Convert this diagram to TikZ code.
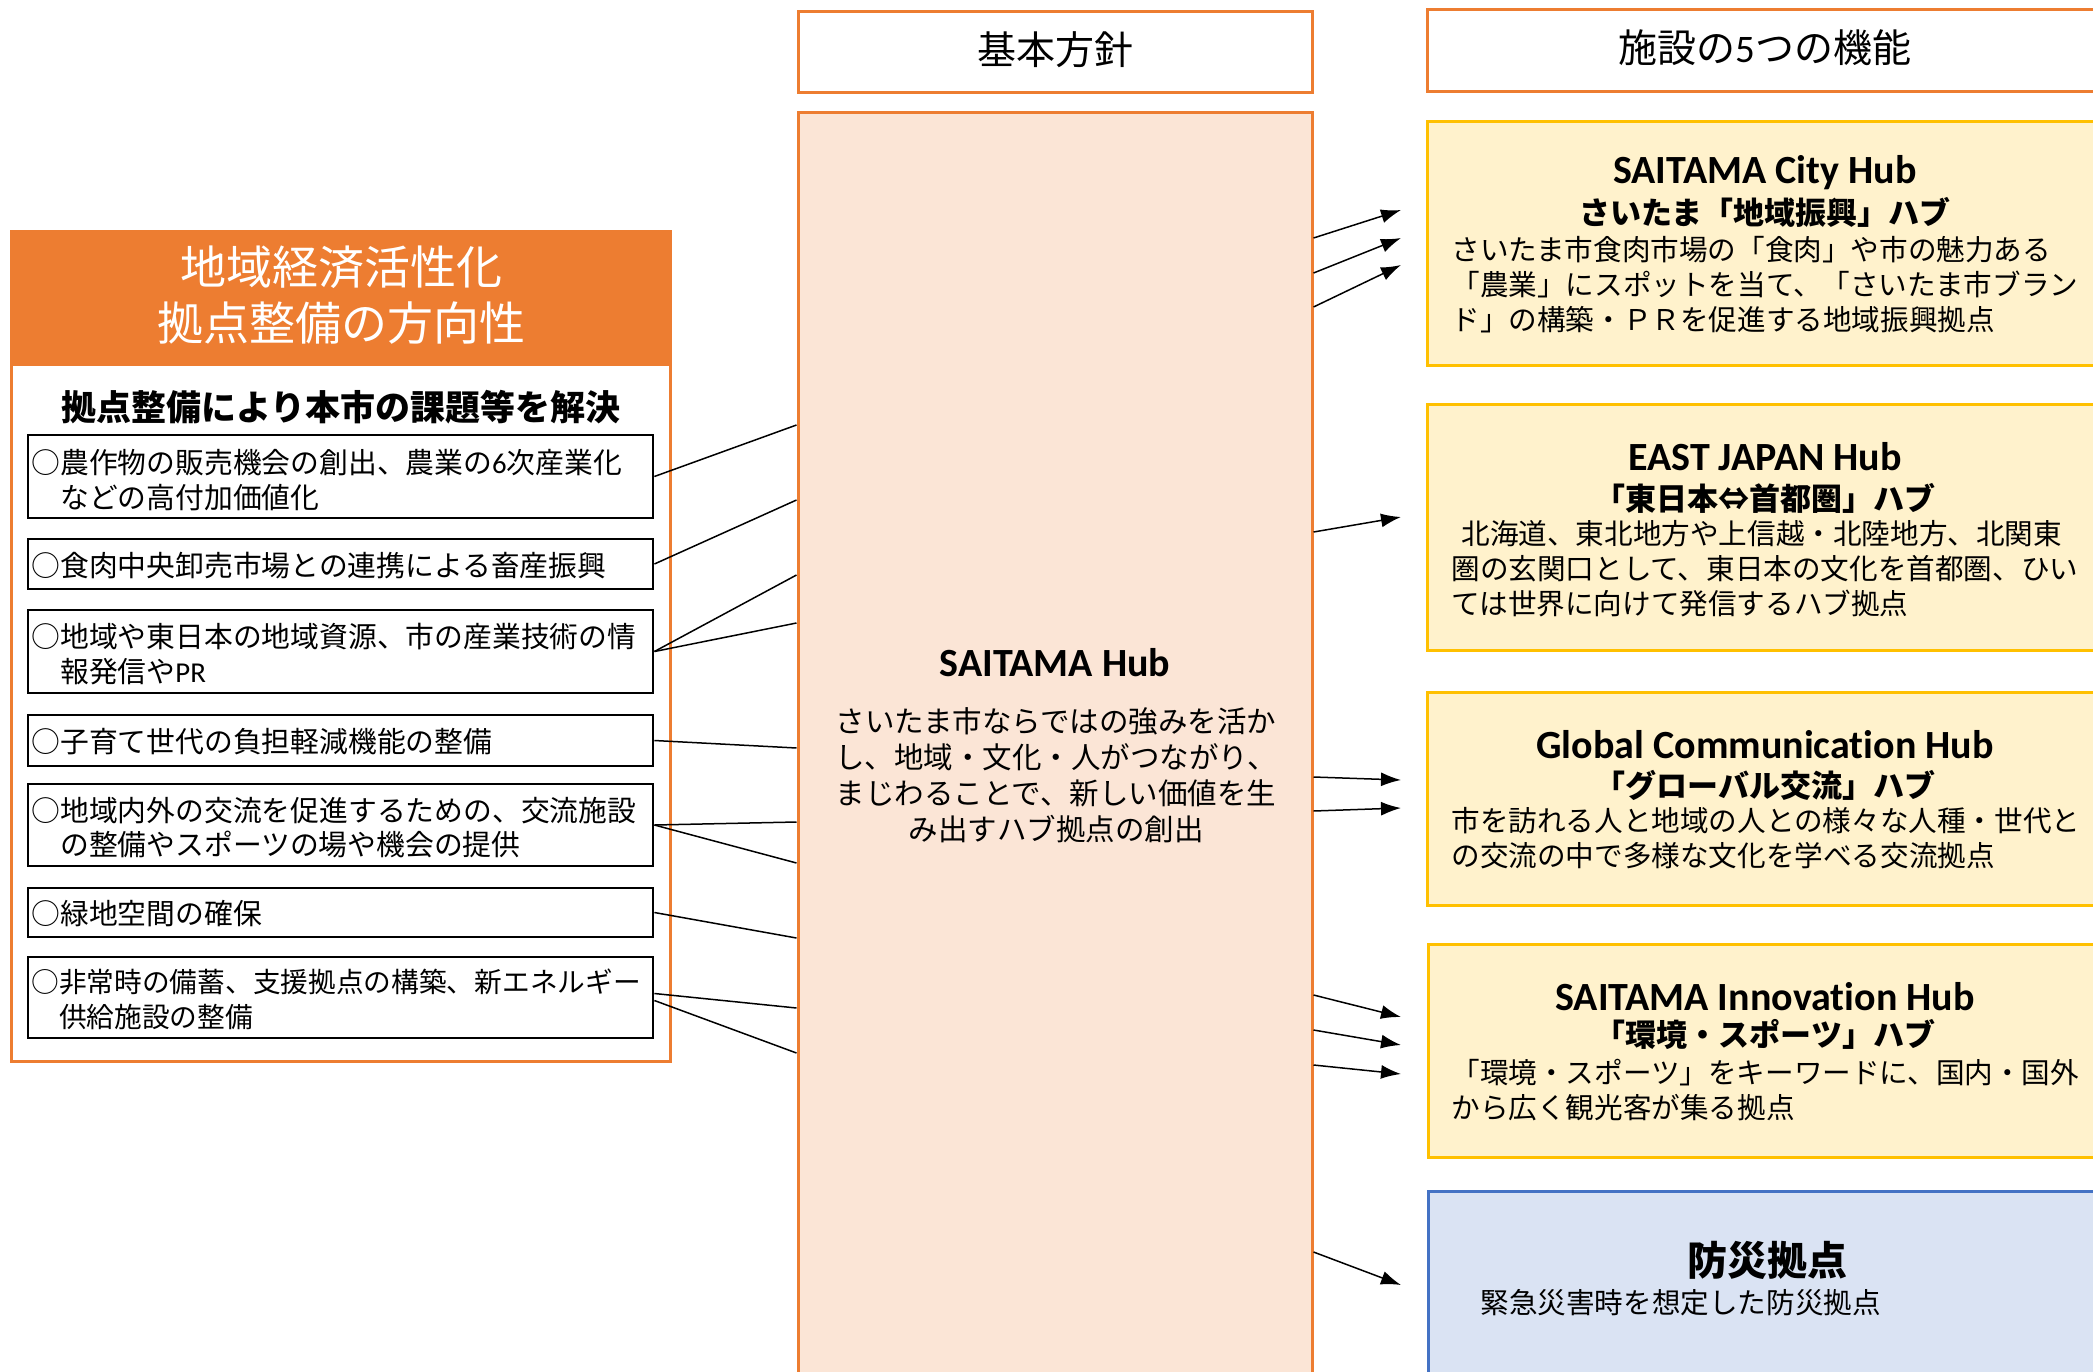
\documentclass[tikz,border=0pt]{standalone}
\usepackage{fontspec}
\setmainfont[Ligatures=NoCommon]{Carlito}
\newfontfamily\jp{Noto Sans CJK JP}
\newfontfamily\carl[Ligatures=NoCommon]{Carlito}
\usetikzlibrary{arrows.meta}
\definecolor{orng}{HTML}{ED7D31}
\definecolor{peach}{HTML}{FBE5D6}
\definecolor{yfill}{HTML}{FFF2CC}
\definecolor{yline}{HTML}{FFC000}
\definecolor{bfill}{HTML}{DAE3F3}
\definecolor{bline}{HTML}{4472C4}
\tikzset{
  obox/.style={draw=orng, fill=white, line width=1.5pt, inner sep=0},
  hdbox/.style={draw=orng, fill=orng, line width=1.5pt, inner sep=0},
  midbox/.style={draw=orng, fill=peach, line width=1.5pt, inner sep=0},
  hubbox/.style={draw=yline, fill=yfill, line width=1.5pt, inner sep=0, minimum width=341.5pt},
  bluebox/.style={draw=bline, fill=bfill, line width=1.5pt, inner sep=0, minimum width=341pt},
  itembox/.style={draw=black, fill=white, line width=1.4pt, inner sep=0, minimum width=312.5pt},
  txt/.style={inner sep=0, text=black},
  itemtxt/.style={txt, anchor=west, align=left, font={\jp\fontsize{14.4}{17.25}\selectfont}},
  hubtitle/.style={txt, font={\carl\bfseries\fontsize{20}{24}\selectfont}},
  hubsub/.style={txt, font={\jp\bfseries\fontsize{15.5}{18}\selectfont}},
  hubbody/.style={txt, anchor=west, align=left, font={\jp\fontsize{14.3}{17.5}\selectfont}},
  lnk/.style={line width=0.75pt, black},
  arr/.style={line width=0.75pt, black, -{Latex[length=10pt,width=7pt]}}
}
\begin{document}
\begin{tikzpicture}[x=0.5pt,y=-0.5pt]
\useasboundingbox (0,0) rectangle (2093,1371);
\clip (0,0) rectangle (2093,1371);
\fill[white] (0,0) rectangle (2093,1371);

% ---------- left panel ----------
\node[obox, minimum width=329.5pt, minimum height=415pt] (L) at (340.5,646) {};
\node[hdbox, minimum width=329.5pt, minimum height=66.5pt] (H) at (340.5,297.5) {};
\node[txt, text=white, align=center, font={\jp\fontsize{23}{28}\selectfont}] (Ht) at (341,295) {地域経済活性化\\拠点整備の方向性};
\node[txt, font={\jp\bfseries\fontsize{17.5}{20}\selectfont}] (Ls) at (341,407) {拠点整備により本市の課題等を解決};

\node[itembox, minimum height=41.5pt] (i1) at (340.5,476.5) {};
\node[itembox, minimum height=25pt]   (i2) at (340.5,564) {};
\node[itembox, minimum height=41.5pt] (i3) at (340.5,651.5) {};
\node[itembox, minimum height=25.5pt] (i4) at (340.5,740.5) {};
\node[itembox, minimum height=41pt]   (i5) at (340.5,825) {};
\node[itembox, minimum height=24.5pt] (i6) at (340.5,912.5) {};
\node[itembox, minimum height=40.5pt] (i7) at (340.5,997.5) {};

\node[itemtxt] (t1) at (31,480) {○農作物の販売機会の創出、農業の{\carl 6}次産業化\\\phantom{○}などの高付加価値化};
\node[itemtxt] (t2) at (31,566) {○食肉中央卸売市場との連携による畜産振興};
\node[itemtxt] (t3) at (31,654) {○地域や東日本の地域資源、市の産業技術の情\\\phantom{○}報発信や{\carl PR}};
\node[itemtxt] (t4) at (31,742) {○子育て世代の負担軽減機能の整備};
\node[itemtxt] (t5) at (31,827.5) {○地域内外の交流を促進するための、交流施設\\\phantom{○}の整備やスポーツの場や機会の提供};
\node[itemtxt] (t6) at (31,914) {○緑地空間の確保};
\node[itemtxt, font={\jp\fontsize{13.85}{17.25}\selectfont}] (t7) at (31,999.5) {○非常時の備蓄、支援拠点の構築、新エネルギー\\\phantom{○}供給施設の整備};

% ---------- middle column ----------
\node[obox, minimum width=257pt, minimum height=40.5pt] (MH) at (1055,51.5) {};
\node[txt, font={\jp\fontsize{19.5}{22}\selectfont}] (MHt) at (1055,50) {基本方針};
\node[midbox, minimum width=257pt, minimum height=634pt] (M) at (1055,746) {};
\node[txt, font={\carl\bfseries\fontsize{20}{24}\selectfont}] (Mt) at (1055,663) {SAITAMA Hub};
\node[txt, align=center, font={\jp\fontsize{14.75}{18}\selectfont}] (Mb) at (1056,775) {さいたま市ならではの強みを活か\\し、地域・文化・人がつながり、\\まじわることで、新しい価値を生\\み出すハブ拠点の創出};

% ---------- right column ----------
\node[obox, minimum width=341.5pt, minimum height=41pt] (RH) at (1768.5,50) {};
\node[txt, font={\jp\fontsize{19.5}{22}\selectfont}] (RHt) at (1765,48) {施設の{\carl 5}つの機能};

\node[hubbox, minimum height=122pt] (h1) at (1768.5,243) {};
\node[hubtitle] (h1t) at (1765,173) {SAITAMA City Hub};
\node[hubsub] (h1s) at (1765,212) {さいたま「地域振興」ハブ};
\node[hubbody] (h1b) at (1451,285) {さいたま市食肉市場の「食肉」や市の魅力ある\\「農業」にスポットを当て、「さいたま市ブラン\\ド」の構築・ＰＲを促進する地域振興拠点};

\node[hubbox, minimum height=123pt] (h2) at (1768.5,527) {};
\node[hubtitle] (h2t) at (1765,457) {EAST JAPAN Hub};
\node[hubsub] (h2s) at (1765,498) {「東日本⇔首都圏」ハブ};
\node[hubbody] (h2b) at (1451,569) {\hspace*{0.35em}北海道、東北地方や上信越・北陸地方、北関東\\圏の玄関口として、東日本の文化を首都圏、ひい\\ては世界に向けて発信するハブ拠点};

\node[hubbox, minimum height=106.5pt] (h3) at (1768.5,798.5) {};
\node[hubtitle] (h3t) at (1765,745) {Global Communicat\kern0pt ion Hub};
\node[hubsub] (h3s) at (1765,785) {「グローバル交流」ハブ};
\node[hubbody] (h3b) at (1451,838.5) {市を訪れる人と地域の人との様々な人種・世代と\\の交流の中で多様な文化を学べる交流拠点};

\node[hubbox, minimum height=106.5pt] (h4) at (1769.5,1050.5) {};
\node[hubtitle] (h4t) at (1765,997) {SAITAMA Innovat\kern0pt ion Hub};
\node[hubsub] (h4s) at (1765,1034) {「環境・スポーツ」ハブ};
\node[hubbody] (h4b) at (1451,1090.5) {「環境・スポーツ」をキーワードに、国内・国外\\から広く観光客が集る拠点};

\node[bluebox, minimum height=94.5pt] (h5) at (1769.5,1285.5) {};
\node[txt, font={\jp\bfseries\fontsize{20}{24}\selectfont}] (h5t) at (1767,1260) {防災拠点};
\node[hubbody] (h5b) at (1480,1303) {緊急災害時を想定した防災拠点};

% ---------- connectors left -> middle ----------
\coordinate (m1) at (M.west |- 0,425);
\coordinate (m2) at (M.west |- 0,500);
\coordinate (m3a) at (M.west |- 0,575);
\coordinate (m3b) at (M.west |- 0,623);
\coordinate (m4) at (M.west |- 0,748);
\coordinate (m5a) at (M.west |- 0,822);
\coordinate (m5b) at (M.west |- 0,863);
\coordinate (m6) at (M.west |- 0,938);
\coordinate (m7a) at (M.west |- 0,1008);
\coordinate (m7b) at (M.west |- 0,1053);
\draw[lnk] (i1.east) -- (m1);
\draw[lnk] (i2.east) -- (m2);
\draw[lnk] (i3.east) -- (m3a);
\draw[lnk] (i3.east) -- (m3b);
\draw[lnk] (i4.east) -- (m4);
\draw[lnk] (i5.east) -- (m5a);
\draw[lnk] (i5.east) -- (m5b);
\draw[lnk] (i6.east) -- (m6);
\draw[lnk] ([yshift=2pt]i7.east) -- (m7a);
\draw[lnk] ([yshift=-1.5pt]i7.east) -- (m7b);

% ---------- arrows middle -> right ----------
\coordinate (s1) at (M.east |- 0,238);   \coordinate (e1) at (1401,210);
\coordinate (s2) at (M.east |- 0,273);   \coordinate (e2) at (1401,238);
\coordinate (s3) at (M.east |- 0,307);   \coordinate (e3) at (1401,265);
\coordinate (s4) at (M.east |- 0,532);   \coordinate (e4) at (1401,517);
\coordinate (s5) at (M.east |- 0,777);   \coordinate (e5) at (1401,780);
\coordinate (s6) at (M.east |- 0,811);   \coordinate (e6) at (1401,808);
\coordinate (s7) at (M.east |- 0,995);   \coordinate (e7) at (1401,1017);
\coordinate (s8) at (M.east |- 0,1030);  \coordinate (e8) at (1401,1045);
\coordinate (s9) at (M.east |- 0,1065);  \coordinate (e9) at (1401,1074);
\coordinate (s10) at (M.east |- 0,1252); \coordinate (e10) at (1401,1285);
\foreach \k in {1,...,10} { \draw[arr] (s\k) -- (e\k); }
\end{tikzpicture}
\end{document}
